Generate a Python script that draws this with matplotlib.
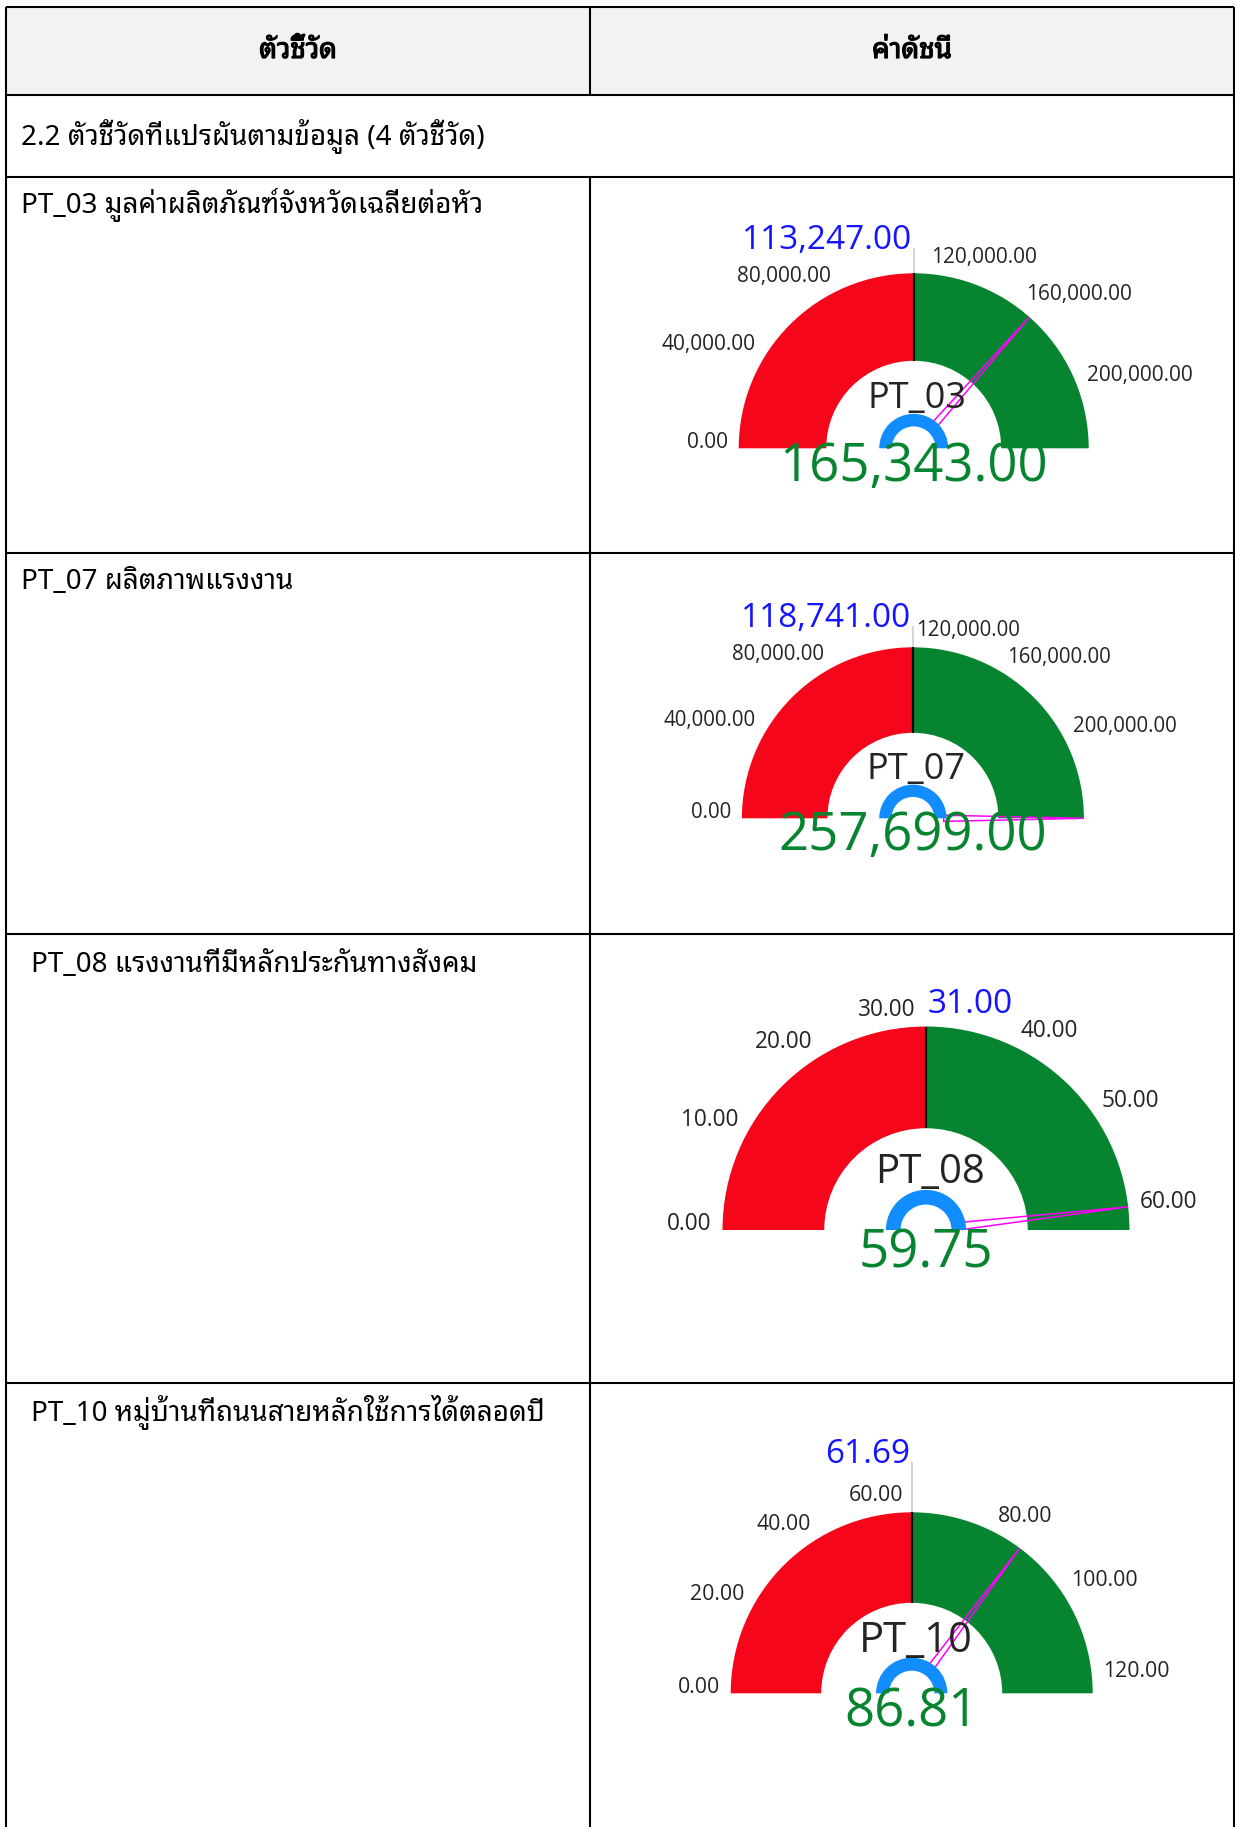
import numpy as np
import matplotlib
matplotlib.use('Agg')
import matplotlib.pyplot as plt
import matplotlib.patheffects as pe
from matplotlib.patches import Wedge, Polygon, Rectangle
from matplotlib import font_manager
from matplotlib.ft2font import FT2Font

# ---- data ----
header_left = 'ตัวชี้วัด'
header_right = 'ค่าดัชนี'
section_label = '2.2 ตัวชี้วัดที่แปรผันตามข้อมูล (4 ตัวชี้วัด)'
indicator_labels = [
    'PT_03 มูลค่าผลิตภัณฑ์จังหวัดเฉลี่ยต่อหัว',
    'PT_07 ผลิตภาพแรงงาน',
    'PT_08 แรงงานที่มีหลักประกันทางสังคม',
    'PT_10 หมู่บ้านที่ถนนสายหลักใช้การได้ตลอดปี',
]
gauge_codes = ['PT_03', 'PT_07', 'PT_08', 'PT_10']
gauge_values = [165343.00, 257699.00, 59.75, 86.81]
gauge_targets = [113247.00, 118741.00, 31.00, 61.69]
gauge_max = [226494.00, 237482.00, 62.00, 123.38]
gauge_ticks = [
    [0, 40000, 80000, 120000, 160000, 200000],
    [0, 40000, 80000, 120000, 160000, 200000],
    [0, 10, 20, 30, 40, 50, 60],
    [0, 20, 40, 60, 80, 100, 120],
]

# ---- layout (pixels) ----
W, H = 1235, 1827
row_lines = [7, 95, 177, 553, 934, 1383]
col_x = [6, 590, 1234]
label_x = [21, 21, 31, 31]
label_y = [213, 589, 972, 1421]
gauge_cx = [913.7, 912.9, 926.0, 911.7]
gauge_cy = [448.3, 818.3, 1230.0, 1693.3]
gauge_r = [175.0, 171.0, 203.5, 181.0]
target_gap = [24.0, 20.6, 13.4, 49.7]
target_side = ['left', 'left', 'right', 'left']
target_line = [True, True, False, True]
center_fs = [26, 26, 29, 30]

RED = '#F5061B'
GREEN = '#06842F'
BLUE = '#118DFF'
TXT = '#252423'


def pick_thai_family():
    # looped Thai faces first, they look closer to the original
    preferred = ['Noto Sans Thai Looped', 'Noto Serif Thai', 'Loma', 'Garuda', 'Waree',
                 'Sarabun', 'Tahoma', 'Leelawadee UI', 'Umpush', 'Laksaman', 'Norasi',
                 'Kinnari', 'Noto Sans Thai', 'Noto Sans Thai UI']
    found = {}
    for fe in font_manager.fontManager.ttflist:
        try:
            cmap = FT2Font(fe.fname).get_charmap()
        except Exception:
            continue
        if 0x0E15 in cmap and 0x0E35 in cmap:
            found.setdefault(fe.name, fe.fname)
    for name in preferred:
        if name in found:
            return name
    if found:
        return sorted(found)[0]
    return None


thai = pick_thai_family()
table_family = [thai, 'DejaVu Sans'] if thai else ['DejaVu Sans']
num_family = ['Open Sans', 'DejaVu Sans']

fig = plt.figure(figsize=(W / 100, H / 100), dpi=100)
ax = fig.add_axes([0, 0, 1, 1])
ax.set_xlim(0, W)
ax.set_ylim(H, 0)
ax.axis('off')

# header background
ax.add_patch(Rectangle((col_x[0], row_lines[0]), col_x[-1] - col_x[0],
                       row_lines[1] - row_lines[0], fc='#f2f2f2', ec='none'))
# grid lines (section row spans both columns)
for y in row_lines:
    ax.plot([col_x[0], col_x[-1]], [y, y], color='black', lw=1.5, solid_capstyle='butt')
for x in (col_x[0], col_x[-1]):
    ax.plot([x, x], [row_lines[0], H], color='black', lw=1.5, solid_capstyle='butt')
ax.plot([col_x[1], col_x[1]], [row_lines[0], row_lines[1]], color='black', lw=1.5,
        solid_capstyle='butt')
ax.plot([col_x[1], col_x[1]], [row_lines[2], H], color='black', lw=1.5,
        solid_capstyle='butt')

bold = [pe.withStroke(linewidth=0.9, foreground='black')]
hy = (row_lines[0] + row_lines[1]) / 2
ax.text((col_x[0] + col_x[1]) / 2, hy, header_left, ha='center', va='center',
        fontsize=20, fontweight='bold', family=table_family, color='black', path_effects=bold)
ax.text((col_x[1] + col_x[2]) / 2, hy, header_right, ha='center', va='center',
        fontsize=20, fontweight='bold', family=table_family, color='black', path_effects=bold)
ax.text(21, 145, section_label, ha='left', va='baseline', fontsize=20,
        family=table_family, color='black')
for lab, x, y in zip(indicator_labels, label_x, label_y):
    ax.text(x, y, lab, ha='left', va='baseline', fontsize=20,
            family=table_family, color='black')

# ---- gauges ----
for i in range(len(gauge_codes)):
    cx, cy, R = gauge_cx[i], gauge_cy[i], gauge_r[i]
    x0, x1 = -1.9, 1.9
    y0, y1 = -0.55, 1.5
    left = cx + x0 * R
    gax = fig.add_axes([left / W, 1 - (cy - y0 * R) / H, (x1 - x0) * R / W, (y1 - y0) * R / H])
    gax.set_xlim(x0, x1)
    gax.set_ylim(y0, y1)
    gax.axis('off')
    gax.patch.set_alpha(0)

    vmax = gauge_max[i]
    ang = lambda v: 180.0 * (1 - min(max(v, 0), vmax) / vmax)
    ta = ang(gauge_targets[i])
    gax.add_patch(Wedge((0, 0), 1.0, ta, 180, width=0.5, fc=RED, ec='none', zorder=1))
    gax.add_patch(Wedge((0, 0), 1.0, 0, ta, width=0.5, fc=GREEN, ec='none', zorder=1))
    tr = np.radians(ta)
    gax.plot([0.5 * np.cos(tr), np.cos(tr)], [0.5 * np.sin(tr), np.sin(tr)],
             color='black', lw=1.6, zorder=3, solid_capstyle='butt')

    # target marker + label
    rt = 1 + target_gap[i] / R
    if target_line[i]:
        gax.plot([np.cos(tr), rt * np.cos(tr)], [np.sin(tr), rt * np.sin(tr)],
                 color='#d6d6d6', lw=1.5, zorder=2)
    if target_side[i] == 'left':
        gax.text(rt * np.cos(tr) - 0.01, rt * np.sin(tr), f'{gauge_targets[i]:,.2f}',
                 ha='right', va='baseline', fontsize=24, color='#1414FF', family=num_family)
    else:
        gax.text(rt * np.cos(tr) + 0.01, rt * np.sin(tr), f'{gauge_targets[i]:,.2f}',
                 ha='left', va='baseline', fontsize=24, color='#1414FF', family=num_family)

    # tick labels
    tfs = 15 * (R / 175) ** 0.55
    rl = 1 + 11 / R
    for t in gauge_ticks[i]:
        a = np.radians(ang(t))
        ha = 'right' if np.cos(a) < 0 else 'left'
        gax.text(rl * np.cos(a), rl * np.sin(a), f'{t:,.2f}', ha=ha, va='baseline',
                 fontsize=tfs, color=TXT, family=num_family)

    # needle
    va_ = np.radians(ang(gauge_values[i]))
    d = np.array([np.cos(va_), np.sin(va_)])
    p = np.array([-d[1], d[0]])
    base = 0.18 * d
    needle = Polygon([base + 0.018 * p, d, base - 0.018 * p], closed=True,
                     fill=False, ec='#FF00FF', lw=1.1, zorder=4)
    gax.add_patch(needle)

    # centre arc
    gax.add_patch(Wedge((0, 0), 0.197, 0, 180, width=0.072, fc=BLUE, ec='none', zorder=5))

    gax.text(0.02, 0.23, gauge_codes[i], ha='center', va='baseline',
             fontsize=center_fs[i], color=TXT, family=num_family, zorder=6)
    gax.text(0.0, -0.185, f'{gauge_values[i]:,.2f}', ha='center', va='baseline',
             fontsize=38, color=GREEN, family=num_family, zorder=6)

fig.savefig('out.png', dpi=100)
